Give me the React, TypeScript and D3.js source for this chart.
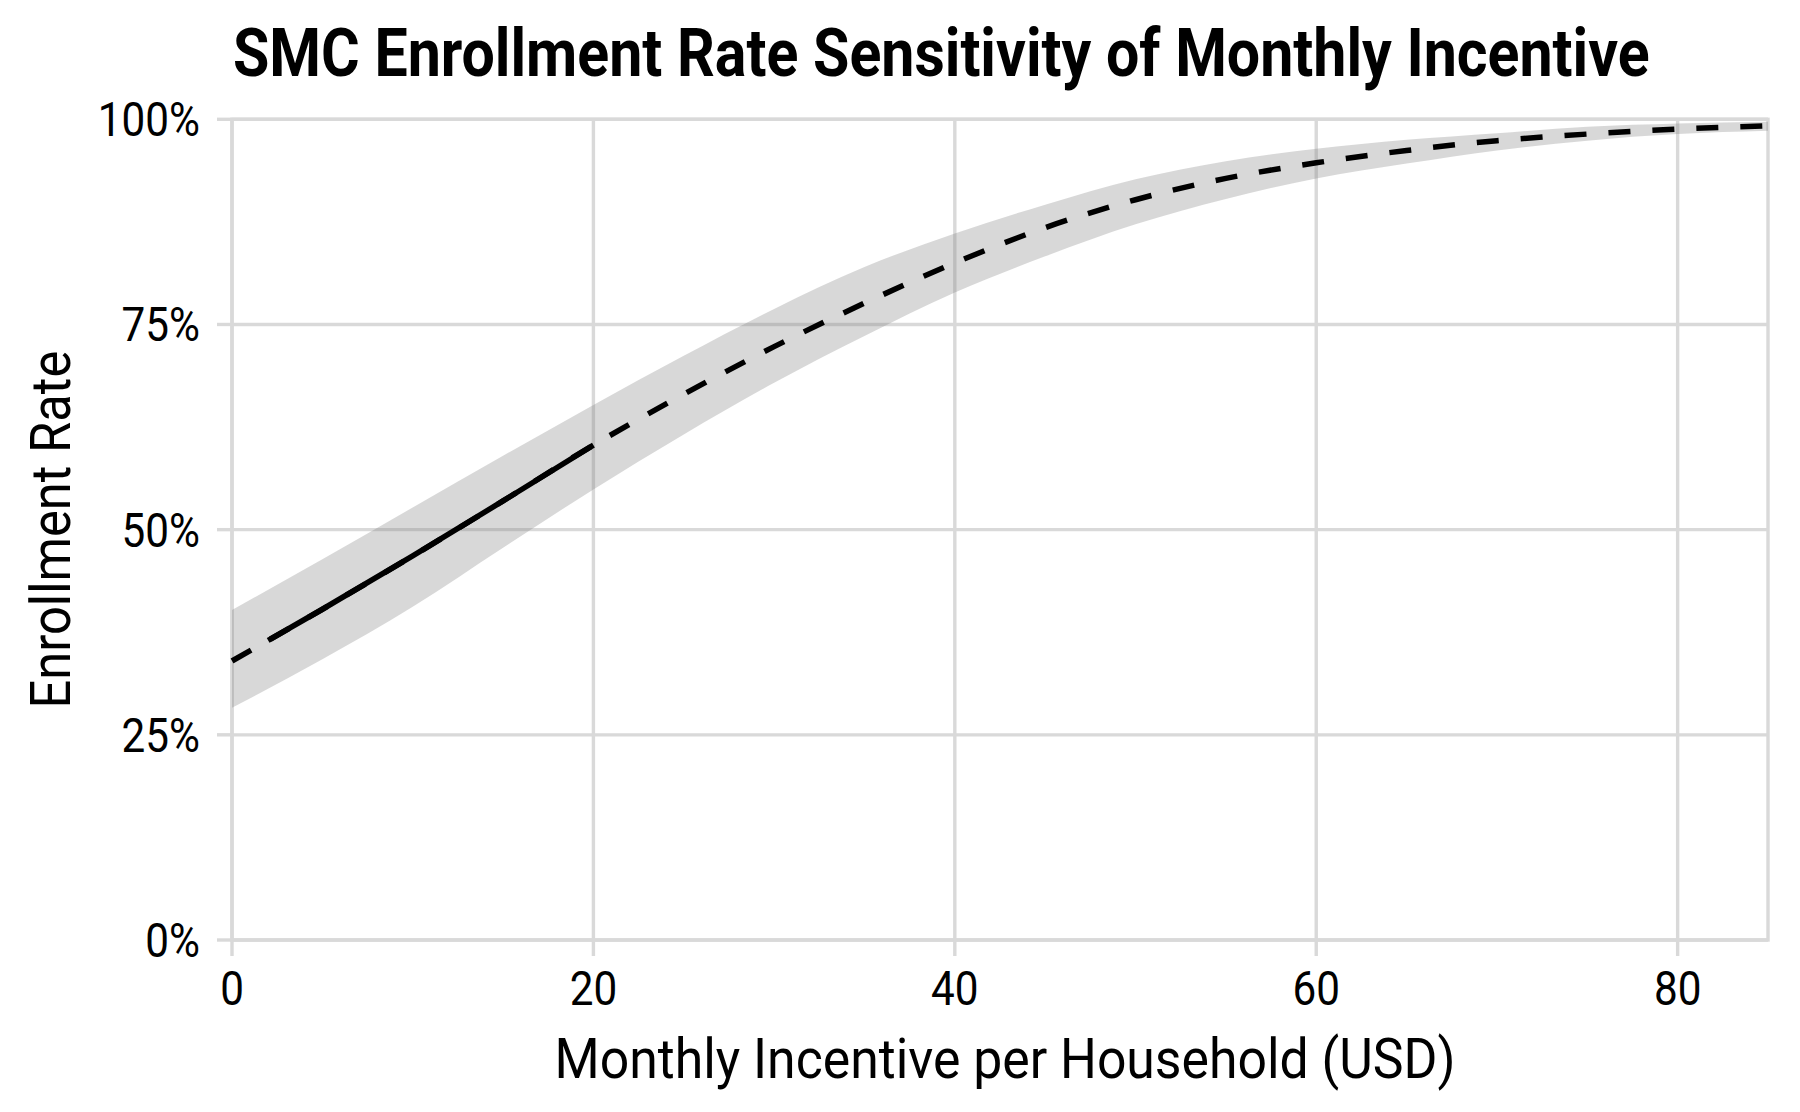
import * as d3 from "d3"

const incentive = [0, 5, 10, 15, 20, 25, 30, 35, 40, 45, 50, 55, 60, 65, 70, 75, 80, 85]
const rateFit = [34.0, 40.3, 46.8, 53.5, 60.3, 66.5, 72.3, 77.6, 82.5, 86.8, 90.2, 92.8, 94.7, 96.2, 97.4, 98.2, 98.8, 99.2]
const rateUpper = [40.2, 46.4, 52.7, 59.0, 65.2, 71.2, 76.9, 82.0, 86.1, 89.6, 92.7, 94.9, 96.4, 97.5, 98.3, 99.1, 99.5, 99.7]
const rateLower = [28.3, 34.2, 40.6, 47.8, 54.9, 61.6, 67.9, 73.6, 78.9, 83.3, 87.2, 90.3, 92.8, 94.6, 96.2, 97.4, 98.2, 98.6]

// observed range (solid part)
const observedIncentive = [2, 5, 10, 15, 20]
const observedRate = [36.5, 40.3, 46.8, 53.5, 60.3]

const xTicks = [0, 20, 40, 60, 80]
const yTicks = [0, 0.25, 0.5, 0.75, 1]

const title = "SMC Enrollment Rate Sensitivity of Monthly Incentive"
const xTitle = "Monthly Incentive per Household (USD)"
const yTitle = "Enrollment Rate"

const width = 1800
const height = 1112
const margin = { top: 119.3, right: 32, bottom: 172, left: 232 }
const grid = "#d9d9d9"
const font = "Roboto, 'Noto Sans', sans-serif"
const squeeze = 0.88

// horizontal squeeze so Roboto fills the same width as the condensed original
function fitScale(str: string, weight: string, size: number, target: number) {
  const ctx = document.createElement("canvas").getContext("2d")
  if (!ctx) return squeeze
  ctx.font = `${weight} ${size}px Roboto`
  const w = ctx.measureText(str).width
  return w > 0 ? target / w : squeeze
}

function Cond({ x, y, anchor, size, k = squeeze, weight = "normal", rotate = 0, children }: any) {
  return (
    <g transform={`translate(${x},${y}) rotate(${rotate}) scale(${k},1)`}>
      <text textAnchor={anchor} fontSize={size} fontWeight={weight} fontFamily={font} fill="#000">
        {children}
      </text>
    </g>
  )
}

export default function App() {
  const x = d3.scaleLinear().domain([0, 85]).range([margin.left, width - margin.right])
  const y = d3.scaleLinear().domain([0, 1]).range([height - margin.bottom, margin.top])

  const band = d3
    .area<number>()
    .x((d, i) => x(incentive[i]))
    .y0((d, i) => y(rateLower[i] / 100))
    .y1((d) => y(d / 100))
    .curve(d3.curveMonotoneX)

  const line = d3
    .line<[number, number]>()
    .x((d) => x(d[0]))
    .y((d) => y(d[1] / 100))
    .curve(d3.curveMonotoneX)

  const fitPts = incentive.map((v, i) => [v, rateFit[i]] as [number, number])
  const obsPts = observedIncentive.map((v, i) => [v, observedRate[i]] as [number, number])

  const [x0, x1] = x.range()
  const [yb, yt] = y.range()

  const kTitle = fitScale(title, "bold", 66, 1417)
  const kX = fitScale(xTitle, "normal", 56, 901)
  const kY = fitScale(yTitle, "normal", 56, 358)

  return (
    <svg width={width} height={height} style={{ position: "absolute", left: 0, top: 0, background: "#fff" }}>
      <rect width={width} height={height} fill="#fff" />

      {/* grid */}
      {yTicks.map((t) => (
        <line key={"gy" + t} x1={x0} x2={x1} y1={y(t)} y2={y(t)} stroke={grid} strokeWidth={3.4} />
      ))}
      {xTicks.map((t) => (
        <line key={"gx" + t} x1={x(t)} x2={x(t)} y1={yt} y2={yb} stroke={grid} strokeWidth={3.4} />
      ))}
      <rect x={x0} y={yt} width={x1 - x0} height={yb - yt} fill="none" stroke={grid} strokeWidth={3.4} />

      {/* ticks */}
      {yTicks.map((t) => (
        <line key={"ty" + t} x1={x0 - 15} x2={x0} y1={y(t)} y2={y(t)} stroke={grid} strokeWidth={3.4} />
      ))}
      {xTicks.map((t) => (
        <line key={"tx" + t} x1={x(t)} x2={x(t)} y1={yb} y2={yb + 16} stroke={grid} strokeWidth={3.4} />
      ))}

      <path d={band(rateUpper) || ""} fill="#7f7f7f" fillOpacity={0.3} />
      <path d={line(fitPts) || ""} fill="none" stroke="#000" strokeWidth={5.5} strokeDasharray="22 22" />
      <path d={line(obsPts) || ""} fill="none" stroke="#000" strokeWidth={5.5} />

      {/* tick labels */}
      {yTicks.map((t) => (
        <Cond key={"ly" + t} x={200} y={y(t) + 17} anchor="end" size={48}>
          {d3.format(".0%")(t)}
        </Cond>
      ))}
      {xTicks.map((t) => (
        <Cond key={"lx" + t} x={x(t)} y={1005} anchor="middle" size={48}>
          {t}
        </Cond>
      ))}

      <Cond x={1005} y={1078} anchor="middle" size={56} k={kX}>
        {xTitle}
      </Cond>
      <Cond x={70} y={(yt + yb) / 2} anchor="middle" size={56} k={kY} rotate={-90}>
        {yTitle}
      </Cond>
      <Cond x={233} y={76} anchor="start" size={66} k={kTitle} weight="bold">
        {title}
      </Cond>
    </svg>
  )
}
